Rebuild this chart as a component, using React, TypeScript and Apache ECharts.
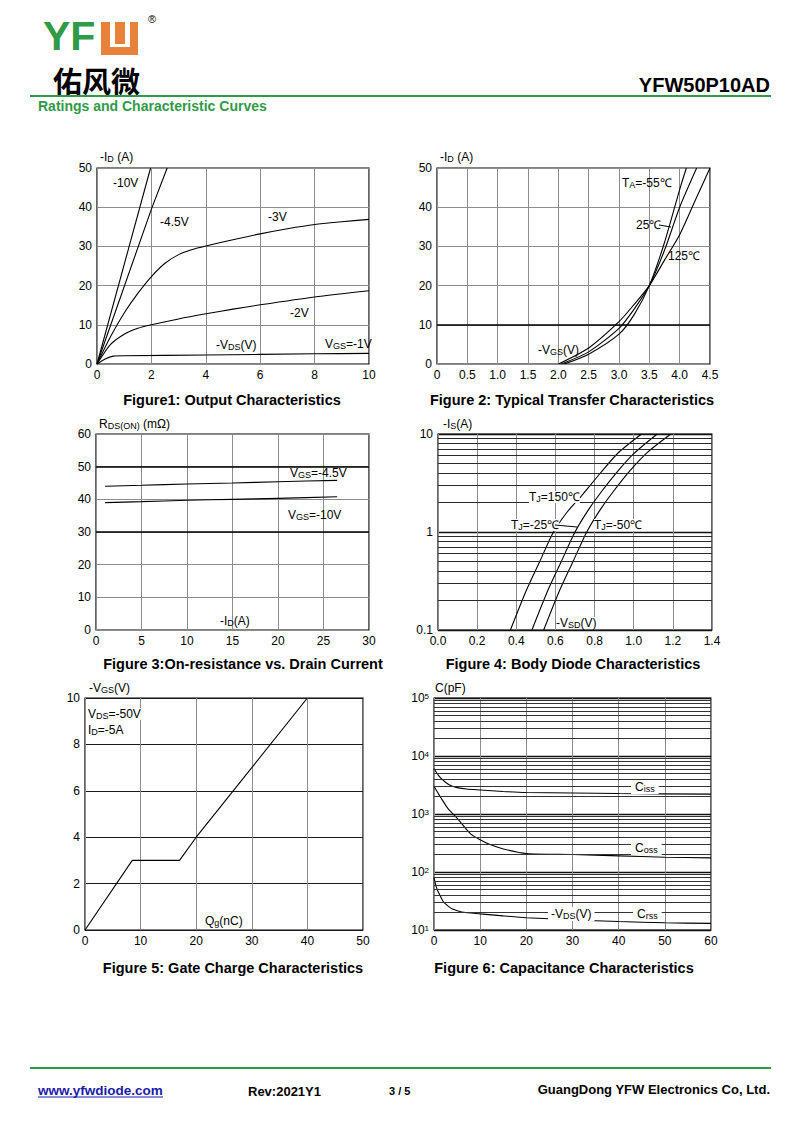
import React, { useEffect, useRef } from "react";
import * as echarts from "echarts";

const FF = '"Liberation Sans", Arial, sans-serif';
const GREEN = "#2f9a48";

// ---------- Figure 1: Output characteristics (x: -VDS, y: -ID) ----------
const f1Vgs10 = [[0, 0], [1.97, 50]];
const f1Vgs45 = [[0, 0], [2, 39.5], [2.58, 50]];
const f1Vgs3 = [[0, 0], [0.5, 7], [1, 13], [1.5, 18], [2, 22.3], [2.5, 25.7], [3, 27.9], [3.5, 29.2], [4, 30.1], [5, 31.7], [6, 33.2], [7, 34.5], [8, 35.6], [9, 36.3], [10, 36.9]];
const f1Vgs2 = [[0, 0], [0.5, 5], [1, 7.6], [1.5, 9.1], [2, 10], [3, 11.5], [4, 12.8], [5, 14], [6, 15.1], [8, 17.1], [10, 18.7]];
const f1Vgs1 = [[0, 0], [0.3, 1.3], [0.6, 2.0], [1, 2.1], [4, 2.3], [8, 2.6], [10, 2.7]];

// ---------- Figure 2: Transfer characteristics (x: -VGS, y: -ID) ----------
const f2Tm55 = [[2.1, 0], [2.5, 2.5], [3.0, 7.6], [3.25, 12.6], [3.5, 20], [3.75, 31], [4.0, 44.5], [4.11, 50]];
const f2T25 = [[2.05, 0], [2.5, 3.1], [3.0, 9.1], [3.25, 14], [3.5, 20], [3.75, 29], [4.0, 40], [4.28, 50]];
const f2T125 = [[2.0, 0], [2.5, 4.1], [3.0, 10.8], [3.25, 15.2], [3.5, 20], [3.75, 26.5], [4.0, 33], [4.25, 41.5], [4.5, 50]];

// ---------- Figure 3: On-resistance vs drain current ----------
const f3Vgs45 = [[1, 44], [5, 44.3], [10, 44.7], [15, 45], [20, 45.4], [26.5, 45.8]];
const f3Vgs10 = [[1, 39], [5, 39.3], [10, 39.7], [15, 40], [20, 40.3], [26.5, 40.8]];

// ---------- Figure 4: Body diode (x: -VSD, y: -IS log) ----------
const f4T150 = [[0.37, 0.1], [0.45, 0.25], [0.52, 0.5], [0.59, 1], [0.66, 1.6], [0.73, 2.3], [0.83, 4], [0.92, 6.4], [1.04, 10]];
const f4Tm25 = [[0.48, 0.1], [0.56, 0.25], [0.63, 0.5], [0.7, 1], [0.77, 1.7], [0.83, 2.5], [0.92, 4.2], [1.0, 6.3], [1.12, 10]];
const f4Tm50 = [[0.54, 0.1], [0.62, 0.25], [0.69, 0.5], [0.76, 1], [0.83, 1.7], [0.89, 2.5], [0.98, 4.2], [1.07, 6.5], [1.19, 10]];
const f4MinorTicks = [0.2, 0.3, 0.4, 0.5, 0.6, 0.7, 0.8, 0.9, 2, 3, 4, 5, 6, 7, 8, 9];

// ---------- Figure 5: Gate charge ----------
const f5Gate = [[0, 0], [8.5, 3], [17, 3], [20, 4], [40, 10]];

// ---------- Figure 6: Capacitance (log y) ----------
const f6Ciss = [[0, 6100], [1, 4600], [2, 3800], [3, 3300], [4, 3000], [5, 2850], [7, 2700], [10, 2600], [15, 2450], [20, 2350], [30, 2300], [40, 2250], [60, 2200]];
const f6Coss = [[0, 3000], [1, 2200], [2, 1650], [3, 1250], [5, 850], [8, 450], [10, 360], [12, 300], [15, 250], [20, 208], [30, 200], [40, 190], [50, 180], [60, 175]];
const f6Crss = [[0, 80], [0.5, 55], [1, 44], [2, 31], [3, 26], [4, 23], [6, 20.5], [10, 19], [15, 17.5], [20, 16.3], [30, 15], [40, 14], [50, 13.3], [60, 13]];
const f6MinorTicks = [20, 30, 40, 50, 60, 70, 80, 90, 200, 300, 400, 500, 600, 700, 800, 900, 2000, 3000, 4000, 5000, 6000, 7000, 8000, 9000, 20000, 30000, 40000, 50000, 60000, 70000, 80000, 90000];

const grids = [
  { left: 97, top: 168, width: 272, height: 196 },
  { left: 437, top: 168, width: 273, height: 196 },
  { left: 96, top: 434, width: 273, height: 196 },
  { left: 438, top: 434, width: 274, height: 196 },
  { left: 85, top: 698, width: 278, height: 232 },
  { left: 434, top: 698, width: 277, height: 232 },
];

const SUB = { fontSize: 9, fontFamily: FF, verticalAlign: "bottom", fill: "#000" };
const SUP = { fontSize: 8, fontFamily: FF, verticalAlign: "top", fill: "#000" };
const NORM = { fontSize: 12, fontFamily: FF, fill: "#000" };

function vAxis(gi: number, min: number, max: number, interval: number, fmt?: any, split?: any) {
  return {
    type: "value",
    gridIndex: gi,
    min,
    max,
    interval,
    axisLine: { show: false },
    axisTick: { show: false },
    axisLabel: { color: "#000", fontSize: 12, fontFamily: FF, margin: 5, formatter: fmt },
    splitLine: { show: true, lineStyle: { color: split || "#8c8c8c", width: 1 } },
  };
}

function logAxis(gi: number, min: number, max: number, fmt: any, rich?: any) {
  return {
    type: "log",
    logBase: 10,
    gridIndex: gi,
    min,
    max,
    axisLine: { show: false },
    axisTick: { show: false },
    axisLabel: { color: "#000", fontSize: 12, fontFamily: FF, margin: 5, formatter: fmt, rich },
    splitLine: { show: true, lineStyle: { color: "#111", width: 1.3 } },
  };
}

function curve(gi: number, data: number[][], smooth: number, markLine?: any) {
  const s: any = {
    type: "line",
    xAxisIndex: gi,
    yAxisIndex: gi,
    data,
    showSymbol: false,
    symbol: "none",
    smooth,
    lineStyle: { color: "#000", width: 1.1 },
    silent: true,
    z: 3,
  };
  if (markLine) s.markLine = markLine;
  return s;
}

function hLines(values: number[], color: string, width: number) {
  return {
    silent: true,
    symbol: ["none", "none"],
    label: { show: false },
    lineStyle: { type: "solid", color, width },
    data: values.map((v) => ({ yAxis: v, lineStyle: { type: "solid", color, width } })),
  };
}

function t(x: number, y: number, text: string, o: any = {}) {
  return {
    type: "text",
    x,
    y,
    z: 100,
    style: {
      text,
      fill: o.fill || "#000",
      fontSize: o.size || 12,
      fontFamily: o.family || FF,
      fontWeight: o.weight || "normal",
      lineHeight: o.lh,
      align: o.align || "left",
      textAlign: o.align || "left",
      verticalAlign: o.va || "middle",
      textVerticalAlign: o.va || "middle",
      backgroundColor: o.bg,
      padding: o.pad,
      rich: { s: SUB, n: NORM, p: SUP, ...(o.rich || {}) },
    },
  };
}

function line(x1: number, y1: number, x2: number, y2: number, color: string, w: number) {
  return { type: "line", z: 100, shape: { x1, y1, x2, y2 }, style: { stroke: color, lineWidth: w } };
}

function rect(x: number, y: number, w: number, h: number, fill: string) {
  return { type: "rect", z: 100, shape: { x, y, width: w, height: h }, style: { fill } };
}

export default function App() {
  const ref = useRef<HTMLDivElement>(null);
  useEffect(() => {
    if (!ref.current) return;
    const chart = echarts.init(ref.current, null, { renderer: "svg" });
    const fmt1 = (v: number) => (v === 0 ? "0" : v.toFixed(1));
    const fmtLog4 = (v: number) => String(Number(v.toPrecision(3)));
    const fmtLog6 = (v: number) => "10{p|" + Math.round(Math.log10(v)) + "}";
    const cap = { size: 14.5, weight: "bold", align: "center" };

    const option: any = {
      animation: false,
      backgroundColor: "#fff",
      grid: grids.map((g) => ({ ...g, show: true, borderColor: "#000", borderWidth: 1.2, containLabel: false })),
      xAxis: [
        vAxis(0, 0, 10, 2),
        vAxis(1, 0, 4.5, 0.5, fmt1),
        vAxis(2, 0, 30, 5),
        vAxis(3, 0, 1.4, 0.2, (v: number) => v.toFixed(1)),
        vAxis(4, 0, 50, 10),
        vAxis(5, 0, 60, 10),
      ],
      yAxis: [
        vAxis(0, 0, 50, 10),
        vAxis(1, 0, 50, 10),
        vAxis(2, 0, 60, 10),
        logAxis(3, 0.1, 10, fmtLog4),
        vAxis(4, 0, 10, 2, undefined, "#1a1a1a"),
        logAxis(5, 10, 100000, fmtLog6, { p: { fontSize: 8, fontFamily: FF, verticalAlign: "top", color: "#000" } }),
      ],
      series: [
        curve(0, f1Vgs10, 0),
        curve(0, f1Vgs45, 0),
        curve(0, f1Vgs3, 0.25),
        curve(0, f1Vgs2, 0.25),
        curve(0, f1Vgs1, 0.25),
        curve(1, f2Tm55, 0.25, hLines([10], "#000", 1.6)),
        curve(1, f2T25, 0.25),
        curve(1, f2T125, 0.25),
        curve(2, f3Vgs45, 0.2, hLines([30, 50], "#000", 1.6)),
        curve(2, f3Vgs10, 0.2),
        curve(3, f4T150, 0.25, hLines(f4MinorTicks, "#2a2a2a", 1.2)),
        curve(3, f4Tm25, 0.25),
        curve(3, f4Tm50, 0.25),
        curve(4, f5Gate, 0),
        curve(5, f6Ciss, 0.25, hLines(f6MinorTicks, "#333", 1)),
        curve(5, f6Coss, 0.25),
        curve(5, f6Crss, 0.25),
      ],
      graphic: [
        // header
        t(43, 36, "YF", { size: 41, lh: 30, weight: "bold", fill: GREEN, family: '"Liberation Sans", Arial' }),
        rect(101, 22, 37, 33, "#e8823a"),
        rect(110, 22, 5, 25, "#fff"),
        rect(125, 22, 5, 25, "#fff"),
        rect(110, 44, 20, 3, "#fff"),
        t(148, 19, "®", { size: 11, lh: 11 }),
        t(53, 80, "佑风微", { size: 29, lh: 26, weight: "bold", family: '"Noto Sans CJK SC"' }),
        t(770, 85, "YFW50P10AD", { size: 20, weight: "bold", align: "right" }),
        line(30, 96, 771, 96, GREEN, 2),
        t(38, 106, "Ratings and Characteristic Curves", { size: 14, weight: "bold", fill: GREEN }),

        // figure 1
        t(100, 157, "-I{s|D} (A)"),
        t(113, 183, "-10V"),
        t(160, 222, "-4.5V"),
        t(268, 217, "-3V"),
        t(290, 313, "-2V"),
        t(216, 345, "-V{s|DS}(V)"),
        t(325, 344, "V{s|GS}=-1V"),
        t(232, 400, "Figure1: Output Characteristics", cap),

        // figure 2
        t(440, 157, "-I{s|D} (A)"),
        t(622, 183, "T{s|A}=-55℃"),
        t(636, 225, "25℃"),
        line(659, 225, 671, 227, "#000", 1),
        t(668, 256, "125℃"),
        t(538, 350, "-V{s|GS}(V)"),
        t(572, 400, "Figure 2: Typical Transfer Characteristics", cap),

        // figure 3
        t(99, 424, "R{s|DS(ON)} (mΩ)"),
        t(290, 473, "V{s|GS}=-4.5V"),
        t(288, 515, "V{s|GS}=-10V"),
        t(220, 621, "-I{s|D}(A)"),
        t(243, 664, "Figure 3:On-resistance vs. Drain Current", cap),

        // figure 4
        t(443, 424, "-I{s|S}(A)"),
        t(529, 497, "T{s|J}=150℃", { bg: "#fff" }),
        t(511, 525, "T{s|J}=-25℃", { bg: "#fff" }),
        line(555, 525, 577, 527, "#000", 1),
        t(594, 525, "T{s|J}=-50℃", { bg: "#fff" }),
        t(556, 623, "-V{s|SD}(V)", { bg: "#fff" }),
        t(573, 664, "Figure 4: Body Diode Characteristics", cap),

        // figure 5
        t(89, 688, "-V{s|GS}(V)"),
        t(88, 714, "V{s|DS}=-50V", { bg: "#fff" }),
        t(88, 730, "I{s|D}=-5A", { bg: "#fff" }),
        t(205, 921, "Q{s|g}(nC)"),
        t(233, 968, "Figure 5: Gate Charge Characteristics", cap),

        // figure 6
        t(435, 688, "C(pF)"),
        t(631, 787, "C{s|iss}", { bg: "#fff", pad: [1, 4] }),
        t(631, 848, "C{s|oss}", { bg: "#fff", pad: [1, 4] }),
        t(548, 914, "-V{s|DS}(V)", { bg: "#fff", pad: [1, 3] }),
        t(633, 914, "C{s|rss}", { bg: "#fff", pad: [1, 4] }),
        t(564, 968, "Figure 6: Capacitance Characteristics", cap),

        // footer
        line(30, 1068, 771, 1068, GREEN, 2),
        t(38, 1090, "www.yfwdiode.com", { size: 13.5, weight: "bold", fill: "#1a1aa8" }),
        line(38, 1097, 163, 1097, "#1a1aa8", 1),
        t(248, 1091, "Rev:2021Y1", { size: 13, weight: "bold" }),
        t(389, 1091, "3 / 5", { size: 11, weight: "bold" }),
        t(770, 1089, "GuangDong YFW Electronics Co, Ltd.", { size: 13, weight: "bold", align: "right" }),
      ],
    };
    chart.setOption(option);
    return () => chart.dispose();
  }, []);
  return (
    <div
      ref={ref}
      style={{ position: "absolute", left: 0, top: 0, width: 800, height: 1130, background: "#fff" }}
    />
  );
}
